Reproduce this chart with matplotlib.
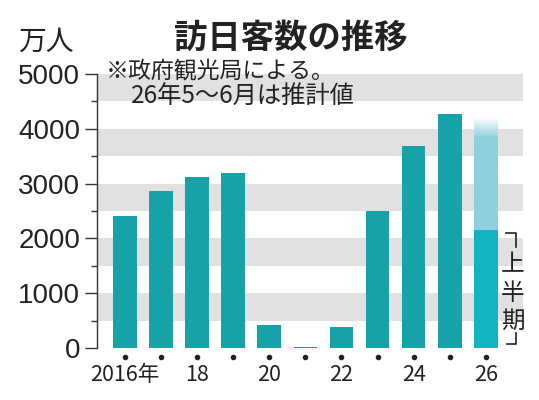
import numpy as np
import matplotlib
matplotlib.use("Agg")
import matplotlib.pyplot as plt
from matplotlib.colors import LinearSegmentedColormap
from matplotlib.lines import Line2D

plt.rcParams['font.family'] = ['Noto Sans CJK JP', 'DejaVu Sans']

# 訪日客数（万人）
years = [2016, 2017, 2018, 2019, 2020, 2021, 2022, 2023, 2024, 2025, 2026]
visitors = [2404, 2869, 3119, 3188, 412, 25, 383, 2507, 3687, 4268, 2150]
estimate_2026 = 4200  # 推計値（通年）
year_labels = ['2016年', '', '18', '', '20', '', '22', '', '24', '', '26']
y_ticks = [0, 1000, 2000, 3000, 4000, 5000]

bar_color = '#17a2a7'
h1_color = '#12b4c2'
est_color = '#8fd0df'
band_color = '#e1e1e1'
text_color = '#222222'

W, H = 539, 400
fig = plt.figure(figsize=(W / 100, H / 100), dpi=100)
ax = fig.add_axes([0.18, 0.13, 0.79, 0.685])


def fx(px):
    return px / W


def fy(py):
    return 1 - py / H


x = np.arange(len(years))
xlim = (-0.78, len(years) - 1 + 1.03)

# 背景の帯
for lo in range(500, 5000, 1000):
    ax.axhspan(lo, lo + 500, color=band_color, lw=0, zorder=0)

colors = [bar_color] * (len(years) - 1) + [h1_color]
width = 0.66

# 26年推計（上に向かって薄くなる）
last = x[-1]
grad = LinearSegmentedColormap.from_list('g', [(0, '#ffffff'), (0.18, est_color), (1, est_color)])
ax.imshow(np.linspace(0, 1, 200).reshape(-1, 1), cmap=grad, aspect='auto',
          extent=[last - width / 2, last + width / 2, visitors[-1], estimate_2026],
          origin='upper', zorder=1.5)

ax.bar(x, visitors, width=width, color=colors, zorder=2)
ax.set_xlim(*xlim)
ax.set_ylim(0, 5000)

# 軸
for s in ['top', 'right', 'bottom']:
    ax.spines[s].set_visible(False)
ax.spines['left'].set_linewidth(1.0)
ax.spines['left'].set_color('#333333')
ax.set_yticks(y_ticks)
ax.set_yticks(range(500, 5000, 1000), minor=True)
ax.tick_params(axis='y', which='major', length=8.5, width=1.0, color='#333333',
               labelsize=20, pad=3.5, labelcolor=text_color)
ax.tick_params(axis='y', which='minor', length=4.3, width=1.0, color='#333333')
for lab in ax.get_yticklabels():
    lab.set_family('Liberation Sans')
ax.set_xticks([])

# 年の点とラベル
for xi, lab in zip(x, year_labels):
    ax.plot(xi, -170, 'o', ms=3, color=text_color, clip_on=False)
    if lab:
        ax.text(xi, -500, lab, ha='center', va='center', fontsize=15.5, color=text_color)

# 「上半期」（縦書き）
for ch, py in zip('上半期', [265, 294, 321]):
    fig.text(fx(513), fy(py), ch, ha='center', va='center', fontsize=17, color=text_color)
fig.add_artist(Line2D([fx(506), fx(516), fx(516)], [fy(233), fy(233), fy(247)],
                      transform=fig.transFigure, color=text_color, lw=1.2))
fig.add_artist(Line2D([fx(516), fx(516), fx(507)], [fy(333), fy(344), fy(344)],
                      transform=fig.transFigure, color=text_color, lw=1.2))

fig.text(0.54, 0.905, '訪日客数の推移', ha='center', va='center', fontsize=24,
         fontweight='bold', color=text_color)
fig.text(0.085, 0.895, '万人', ha='center', va='center', fontsize=20, color=text_color)
fig.text(fx(106), fy(71), '※政府観光局による。', ha='left', va='center',
         fontsize=16.5, color=text_color)
fig.text(fx(131), fy(97), '26年5～6月は推計値', ha='left', va='center',
         fontsize=17.5, color=text_color)

fig.savefig('out.png', dpi=100)
